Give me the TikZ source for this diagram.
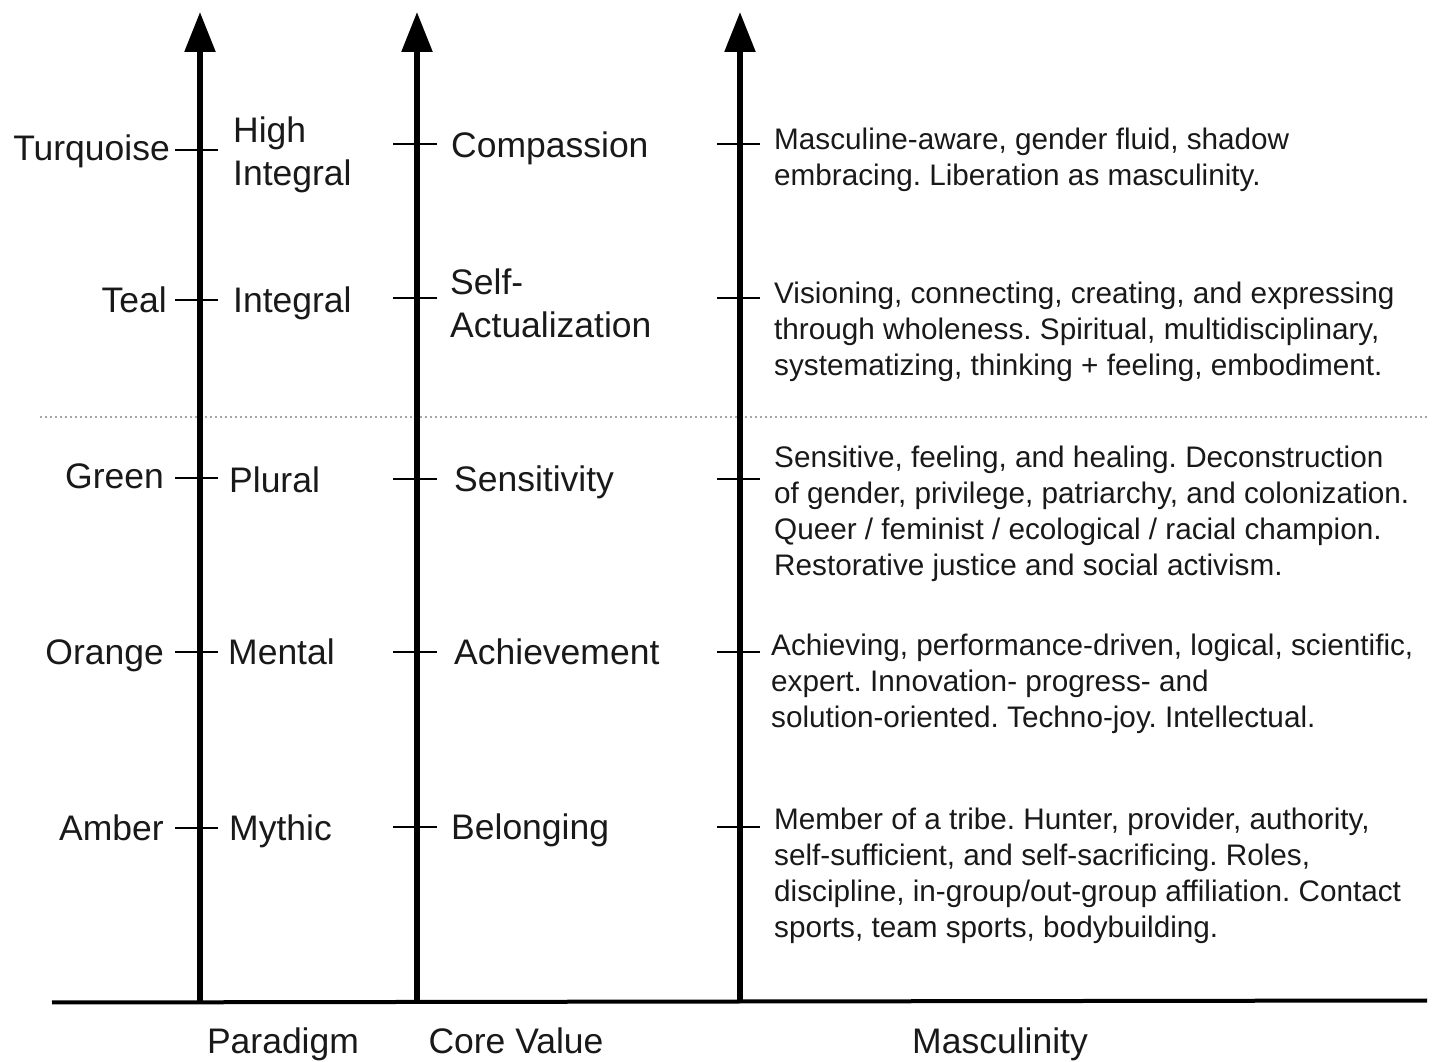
\documentclass[tikz,border=0pt]{standalone}
\usepackage{fontspec}
\setmainfont{Liberation Sans}
\usetikzlibrary{arrows.meta}
\frenchspacing
\newcommand\lblfont{\fontsize{35.5}{43}\selectfont\frenchspacing}
\newcommand\parfont{\fontsize{29.7}{36}\selectfont\frenchspacing}
\begin{document}
\begin{tikzpicture}[x=1pt,y=1pt,
  axis/.style={line width=5.5pt,-{Triangle[width=30pt,length=40pt]}},
  tick/.style={line width=2.2pt},
  base/.style={line width=4pt},
  sep/.style={draw=gray!70,line width=1.2pt,dash pattern=on 2pt off 3pt},
  lbl/.style={inner sep=0pt,font=\lblfont,text=black!90},
  par/.style={inner sep=0pt,font=\parfont,align=left,anchor=north west,text=black!90}]
\useasboundingbox (0,0) rectangle (1436,1061);
% axes
\coordinate (a1b) at (200,59);  \coordinate (a1t) at (200,1049);
\coordinate (a2b) at (417,59);  \coordinate (a2t) at (417,1049);
\coordinate (a3b) at (740,60);  \coordinate (a3t) at (740,1049);
\coordinate (bl) at (52,58.5);  \coordinate (br) at (1427,60.5);
\coordinate (dl) at (40,644);   \coordinate (dr) at (1427,644);
\draw[sep] (dl) -- (dr);
\draw[base] (bl) -- (br);
\draw[axis] (a1b) -- (a1t);
\draw[axis] (a2b) -- (a2t);
\draw[axis] (a3b) -- (a3t);
% ticks
\foreach \n/\y in {1/911,2/761,3/583,4/409,5/233}{
  \coordinate (t1l\n) at (175,\y); \coordinate (t1r\n) at (218,\y);
  \draw[tick] (t1l\n) -- (t1r\n);}
\foreach \n/\y in {1/917,2/763,3/582,4/409,5/234}{
  \coordinate (t2l\n) at (393,\y); \coordinate (t2r\n) at (437,\y);
  \draw[tick] (t2l\n) -- (t2r\n);
  \coordinate (t3l\n) at (717,\y); \coordinate (t3r\n) at (760,\y);
  \draw[tick] (t3l\n) -- (t3r\n);}
% column 1
\node[lbl,anchor=base east] (turq) at (170,900.5) {Turquoise};
\node[lbl,anchor=base east] (teal) at (167,748.5) {Teal};
\node[lbl,anchor=base east] (green) at (164,572.5) {Green};
\node[lbl,anchor=base east] (orange) at (164,396.5) {Orange};
\node[lbl,anchor=base east] (amber) at (164,220.5) {Amber};
% column 2
\node[lbl,anchor=west,align=left] (hint) at (233,906) {High\\Integral};
\node[lbl,anchor=base west] (int) at (233,748.5) {Integral};
\node[lbl,anchor=base west] (plural) at (229,568.5) {Plural};
\node[lbl,anchor=base west] (mental) at (228,396.5) {Mental};
\node[lbl,anchor=base west] (mythic) at (229,220.5) {Mythic};
% column 3
\node[lbl,anchor=base west] (comp) at (451,903.5) {Compassion};
\node[lbl,anchor=west,align=left] (self) at (450,757.5) {Self-\\Actualization};
\node[lbl,anchor=base west] (sens) at (454,569.5) {Sensitivity};
\node[lbl,anchor=base west] (ach) at (454,396.5) {Achievement};
\node[lbl,anchor=base west] (bel) at (451,221.5) {Belonging};
% column 4
\node[par] (p1) at (774,933.5) {Masculine-aware, gender fluid, shadow\\embracing. Liberation as masculinity.};
\node[par] (p2) at (774,779.5) {Visioning, connecting, creating, and expressing\\through wholeness. Spiritual, multidisciplinary,\\systematizing, thinking + feeling, embodiment.};
\node[par] (p3) at (774,615.5) {Sensitive, feeling, and healing. Deconstruction\\of gender, privilege, patriarchy, and colonization.\\Queer / feminist / ecological / racial champion.\\Restorative justice and social activism.};
\node[par] (p4) at (771,427.5) {Achieving, performance-driven, logical, scientific,\\expert. Innovation- progress- and\\solution-oriented. Techno-joy. Intellectual.};
\node[par] (p5) at (774,253.5) {Member of a tribe. Hunter, provider, authority,\\self-sufficient, and self-sacrificing. Roles,\\discipline, in-group/out-group affiliation. Contact\\sports, team sports, bodybuilding.};
% bottom labels
\node[lbl,anchor=base] (paradigm) at (283,8) {Paradigm};
\node[lbl,anchor=base] (core) at (516,8) {Core Value};
\node[lbl,anchor=base] (masc) at (1000,8) {Masculinity};
\end{tikzpicture}
\end{document}
